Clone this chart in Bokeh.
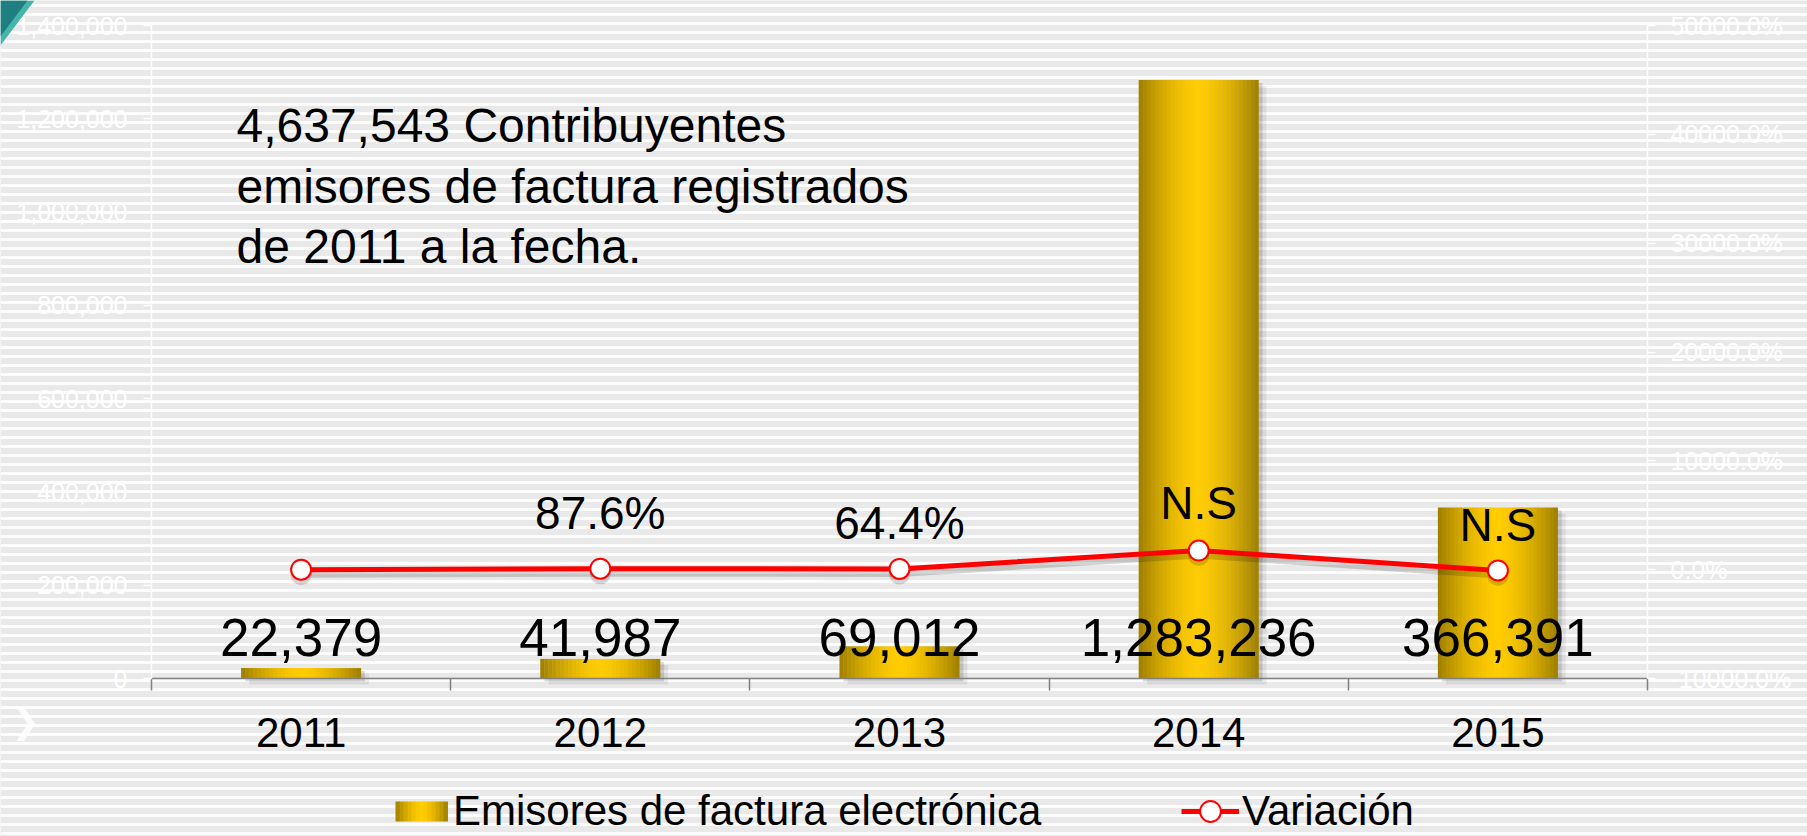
from bokeh.plotting import figure
from bokeh.models import (Range1d, LinearAxis, FixedTicker, NumeralTickFormatter,
                          PrintfTickFormatter, ColumnDataSource, Legend, LegendItem,
                          Label, BoxAnnotation, PolyAnnotation)
from bokeh.core.properties import value
from bokeh.embed import file_html
from bokeh.resources import INLINE

# ---------------- data ----------------
years = ["2011", "2012", "2013", "2014", "2015"]
emisores = [22379, 41987, 69012, 1283236, 366391]
emisores_labels = ["22,379", "41,987", "69,012", "1,283,236", "366,391"]
variacion = [0.0, 87.6, 64.4, 1759.4, -71.4]
variacion_labels = ["", "87.6%", "64.4%", "N.S", "N.S"]
left_ticks = [0, 200000, 400000, 600000, 800000, 1000000, 1200000, 1400000]
right_ticks = [-10000, 0, 10000, 20000, 30000, 40000, 50000]
note_lines = ["4,637,543 Contribuyentes",
              "emisores de factura registrados",
              "de 2011 a la fecha."]
legend_bar = "Emisores de factura electrónica"
legend_line = "Variación"

SANS = "Liberation Sans"

# ---------------- geometry (page pixels) ----------------
W, H = 1807, 836
AX_L, AX_R = 151, 1647      # plot area left / right
AX_T, AX_B = 25, 678        # plot area top / bottom
FW = AX_R - AX_L
FH = AX_B - AX_T
YMAX = 1400000
PMIN, PMAX = -10000, 50000
NCAT = len(years)
X0, X1 = -0.5, NCAT - 0.5


def page_x(px):
    return (px - AX_L) / FW * (X1 - X0) + X0


def page_y(py):
    return (AX_B - py) / FH * YMAX


def page_p(py):
    return PMIN + (AX_B - py) / FH * (PMAX - PMIN)


idx = list(range(NCAT))

p = figure(width=W, height=H,
           x_range=Range1d(page_x(0), page_x(W)),
           y_range=Range1d(page_y(H), page_y(0)),
           output_backend="svg", toolbar_location=None,
           min_border_left=0, min_border_right=0, min_border_top=0,
           min_border_bottom=0)
p.min_border = 0
p.outline_line_color = None
p.xgrid.visible = False
p.ygrid.visible = False

# background stripes
BG = "#E9E9E9"
p.background_fill_color = BG
p.border_fill_color = BG
p.add_layout(BoxAnnotation(left=page_x(0), right=page_x(W), top=page_y(0),
                           bottom=page_y(H), fill_color=BG, fill_alpha=1,
                           line_color=None, hatch_pattern="horizontal_line",
                           hatch_color="white", hatch_alpha=0.85, hatch_weight=3,
                           hatch_scale=9, level="image"))

# shifted ranges used to draw drop shadows a few pixels right / down
p.extra_x_ranges = {
    "s1": Range1d(page_x(-4), page_x(W - 4)),
    "s2": Range1d(page_x(-8), page_x(W - 8)),
}
p.extra_y_ranges = {
    "pct": Range1d(page_p(H), page_p(0)),
    "b1": Range1d(page_y(H - 3), page_y(-3)),
    "b2": Range1d(page_y(H - 6), page_y(-6)),
    "ps": Range1d(page_p(H - 5), page_p(-5)),
}

# ---------------- axes ----------------
xa = p.xaxis[0]
xa.fixed_location = 0
xa.bounds = (X0, X1)
xa.ticker = FixedTicker(ticks=idx, minor_ticks=[i - 0.5 for i in range(NCAT + 1)])
xa.major_label_overrides = {i: y for i, y in enumerate(years)}
xa.major_tick_line_color = None
xa.major_tick_out = 0
xa.major_tick_in = 0
xa.minor_tick_line_color = "#808080"
xa.minor_tick_line_width = 1.5
xa.minor_tick_out = 12
xa.minor_tick_in = 0
xa.axis_line_color = "#808080"
xa.axis_line_width = 1.5
xa.major_label_text_font = SANS
xa.major_label_text_font_size = "42px"
xa.major_label_text_color = "black"
xa.major_label_standoff = 27

ya = p.yaxis[0]
ya.fixed_location = X0
ya.bounds = (0, YMAX)
ya.ticker = FixedTicker(ticks=left_ticks)
ya.formatter = NumeralTickFormatter(format="0,0")
ya.axis_line_color = "white"
ya.axis_line_width = 1.5
ya.major_tick_line_color = "white"
ya.major_tick_line_width = 1.5
ya.major_tick_out = 8
ya.major_tick_in = 0
ya.minor_tick_line_color = None
ya.major_label_text_color = "white"
ya.major_label_text_font = SANS
ya.major_label_text_font_size = "25px"
ya.major_label_standoff = 16

ra = LinearAxis(y_range_name="pct", ticker=FixedTicker(ticks=right_ticks),
                formatter=PrintfTickFormatter(format="%.1f%%"),
                fixed_location=X1, bounds=(PMIN, PMAX))
ra.axis_line_color = "white"
ra.axis_line_width = 1.5
ra.major_tick_line_color = "white"
ra.major_tick_line_width = 1.5
ra.major_tick_out = 8
ra.major_tick_in = 0
ra.minor_tick_line_color = None
ra.major_label_text_color = "white"
ra.major_label_text_font = SANS
ra.major_label_text_font_size = "25px"
ra.major_label_standoff = 15
p.add_layout(ra, "right")

# ---------------- bars ----------------
BW = 0.4
p.vbar(x=idx, top=emisores, width=BW, x_range_name="s2", y_range_name="b2",
       fill_color="black", fill_alpha=0.07, line_color=None)
p.vbar(x=idx, top=emisores, width=BW, x_range_name="s1", y_range_name="b1",
       fill_color="black", fill_alpha=0.13, line_color=None)

DARK = (0x9E, 0x7E, 0x00)
BRIGHT = (0xFF, 0xCC, 0x00)


def grad(u):
    s = 1 - abs(2 * u - 1) ** 1.6
    c = [int(round(DARK[k] + (BRIGHT[k] - DARK[k]) * s)) for k in range(3)]
    return "#%02x%02x%02x" % tuple(c)


NS = 30
sx, st, sc = [], [], []
for i, v in zip(idx, emisores):
    for j in range(NS):
        u = (j + 0.5) / NS
        sx.append(i - BW / 2 + u * BW)
        st.append(v)
        sc.append(grad(u))
p.vbar(x=sx, top=st, width=BW / NS * 1.1, fill_color=sc, line_color=None)

bar_leg = p.vbar(x=[], top=[], width=BW, fill_color="#E0B300", fill_alpha=0,
                 line_color=None)

# bar value labels (anchored at the bar base)
p.text(x=idx, y=[0 for _ in emisores], text=emisores_labels, text_align="center",
       text_baseline="alphabetic", y_offset=-41, text_font=value(SANS),
       text_font_size="53px", text_color="black")

# ---------------- line ----------------
p.line(idx, variacion, y_range_name="ps", line_color="black", line_alpha=0.16,
       line_width=6, line_join="round")
p.scatter(idx, variacion, y_range_name="ps", size=21, fill_color="black",
          fill_alpha=0.15, line_color=None)
line_r = p.line(idx, variacion, y_range_name="pct", line_color="#FF0000",
                line_width=5, line_join="round")
pts_r = p.scatter(idx, variacion, y_range_name="pct", marker="circle", size=20,
                  fill_color="white", line_color="#FF0000", line_width=2)

lab_src = ColumnDataSource(dict(x=idx, y=variacion, t=variacion_labels,
                                off=[-46, -56, -46, -48, -45]))
p.text(x="x", y="y", text="t", source=lab_src, y_range_name="pct",
       y_offset="off", text_align="center", text_baseline="alphabetic",
       text_font=value(SANS), text_font_size="46px", text_color="black")

# ---------------- note ----------------
for k, line in enumerate(note_lines):
    p.add_layout(Label(x=page_x(236), y=page_y(143 + 60.5 * k - 18), text=line,
                       text_font=SANS, text_font_size="48px",
                       text_color="black", text_align="left",
                       text_baseline="alphabetic"))

# ---------------- legends ----------------
leg1 = Legend(items=[LegendItem(label=legend_bar, renderers=[bar_leg])],
              location=(395, -1), orientation="horizontal",
              glyph_width=52, glyph_height=52, label_height=52, label_standoff=6,
              padding=0, margin=0, spacing=0, border_line_color=None,
              background_fill_alpha=0, label_text_font=SANS,
              label_text_font_size="42px", label_text_color="black")
leg2 = Legend(items=[LegendItem(label=legend_line, renderers=[line_r, pts_r])],
              location=(1181, -1), orientation="horizontal",
              glyph_width=58, glyph_height=52, label_height=52, label_standoff=3,
              padding=0, margin=0, spacing=0, border_line_color=None,
              background_fill_alpha=0, label_text_font=SANS,
              label_text_font_size="42px", label_text_color="black")
p.add_layout(leg1)
p.add_layout(leg2)

# gradient swatch of the bar legend glyph
SW = 13
for j in range(SW):
    u0 = j / SW
    u1 = (j + 1) / SW
    p.add_layout(BoxAnnotation(left=page_x(395 + 52 * u0),
                               right=page_x(395 + 52 * u1 + 0.5),
                               bottom=page_y(821), top=page_y(801),
                               fill_color=grad((u0 + u1) / 2), fill_alpha=1,
                               line_color=None, level="overlay"))

# corner decoration and chevron
p.add_layout(PolyAnnotation(xs=[page_x(0), page_x(34), page_x(0)],
                            ys=[page_y(0), page_y(0), page_y(45)],
                            fill_color="#45B5AC", fill_alpha=1, line_color=None))
p.add_layout(PolyAnnotation(xs=[page_x(0), page_x(27), page_x(0)],
                            ys=[page_y(0), page_y(0), page_y(36)],
                            fill_color="#1F7F80", fill_alpha=1, line_color=None))
p.add_layout(Label(x=page_x(25), y=page_y(720), text="❯", text_font="DejaVu Sans",
                   text_font_size="34px", text_color="white", text_alpha=0.85,
                   text_align="center", text_baseline="middle"))

open("out.html", "w").write(file_html(p, INLINE))
